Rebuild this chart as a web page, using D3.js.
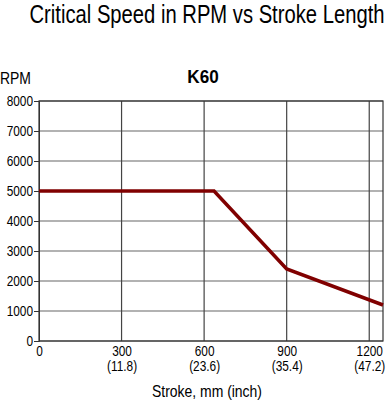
<!DOCTYPE html>
<html><head><meta charset="utf-8">
<script src="https://cdn.jsdelivr.net/npm/d3@7"></script>
<style>body{margin:0;background:#fff}svg{display:block}text{font-family:"Liberation Sans",Arial,sans-serif}</style>
</head><body>
<svg id="c" width="389" height="406"></svg>
<script>
const strokeMm = [0, 636, 900, 1250];
const rpm = [5000, 5000, 2400, 1200];
const xTicks = [0, 300, 600, 900, 1200];
const xTickInch = ["", "(11.8)", "(23.6)", "(35.4)", "(47.2)"];
const yTicks = [0, 1000, 2000, 3000, 4000, 5000, 6000, 7000, 8000];

const svg = d3.select("#c");
const m = {l: 39, r: 383, t: 101, b: 341};
const x = d3.scaleLinear().domain([0, 1250]).range([m.l, m.r]);
const y = d3.scaleLinear().domain([0, 8000]).range([m.b, m.t]);

function condense(sel, f) {
  sel.each(function () {
    const w = this.getComputedTextLength();
    if (w > 0) d3.select(this).attr("textLength", w * f).attr("lengthAdjust", "spacingAndGlyphs");
  });
}

// grid
svg.append("g").selectAll("line").data(yTicks).join("line")
  .attr("x1", m.l).attr("x2", m.r).attr("y1", d => y(d)).attr("y2", d => y(d))
  .attr("stroke", "#666").attr("stroke-width", 1.2);
svg.append("g").selectAll("line").data(xTicks.filter(d => d > 0)).join("line")
  .attr("y1", m.t).attr("y2", m.b).attr("x1", d => x(d)).attr("x2", d => x(d))
  .attr("stroke", "#444").attr("stroke-width", 1.2);
svg.append("rect").attr("x", m.l).attr("y", m.t).attr("width", m.r - m.l).attr("height", m.b - m.t)
  .attr("fill", "none").attr("stroke", "#333").attr("stroke-width", 1.2);

// y axis
const ya = svg.append("g").attr("transform", `translate(${m.l},0)`)
  .call(d3.axisLeft(y).tickValues(yTicks).tickSize(5).tickPadding(1).tickFormat(d3.format("d")));
ya.select(".domain").attr("stroke", "#333");
ya.selectAll("line").attr("stroke", "#333");
ya.selectAll("text").attr("font-size", 15).attr("fill", "#000").attr("font-family", "Liberation Sans");
condense(ya.selectAll("text"), 0.79);

// x axis
const xa = svg.append("g").attr("transform", `translate(0,${m.b})`)
  .call(d3.axisBottom(x).tickValues(xTicks).tickSize(0).tickPadding(4).tickFormat(d3.format("d")));
xa.select(".domain").remove();
xa.selectAll("text").attr("font-size", 15).attr("fill", "#000").attr("font-family", "Liberation Sans");
xa.selectAll(".tick").append("text").attr("class", "inch").attr("y", 30).attr("fill", "#000").attr("font-size", 15)
  .attr("text-anchor", "middle").attr("font-family", "Liberation Sans")
  .text((d, i) => xTickInch[i]);
condense(xa.selectAll("text"), 0.79);

// line
svg.append("path").datum(strokeMm.map((d, i) => [d, rpm[i]]))
  .attr("d", d3.line().x(d => x(d[0])).y(d => y(d[1])))
  .attr("fill", "none").attr("stroke", "#800000").attr("stroke-width", 3.5);

// texts
const t1 = svg.append("text").attr("x", 207).attr("y", 23).attr("text-anchor", "middle").attr("font-size", 25).text("Critical Speed in RPM vs Stroke Length");
t1.attr("textLength", 355).attr("lengthAdjust", "spacingAndGlyphs");
const t2 = svg.append("text").attr("x", 203).attr("y", 83).attr("text-anchor", "middle").attr("font-size", 19).attr("font-weight", "bold").text("K60");
condense(t2, 0.9);
const t3 = svg.append("text").attr("x", 0).attr("y", 84).attr("font-size", 17).text("RPM");
condense(t3, 0.82);
const t4 = svg.append("text").attr("x", 207).attr("y", 397).attr("text-anchor", "middle").attr("font-size", 17).text("Stroke, mm (inch)");
condense(t4, 0.82);
</script>
</body></html>
